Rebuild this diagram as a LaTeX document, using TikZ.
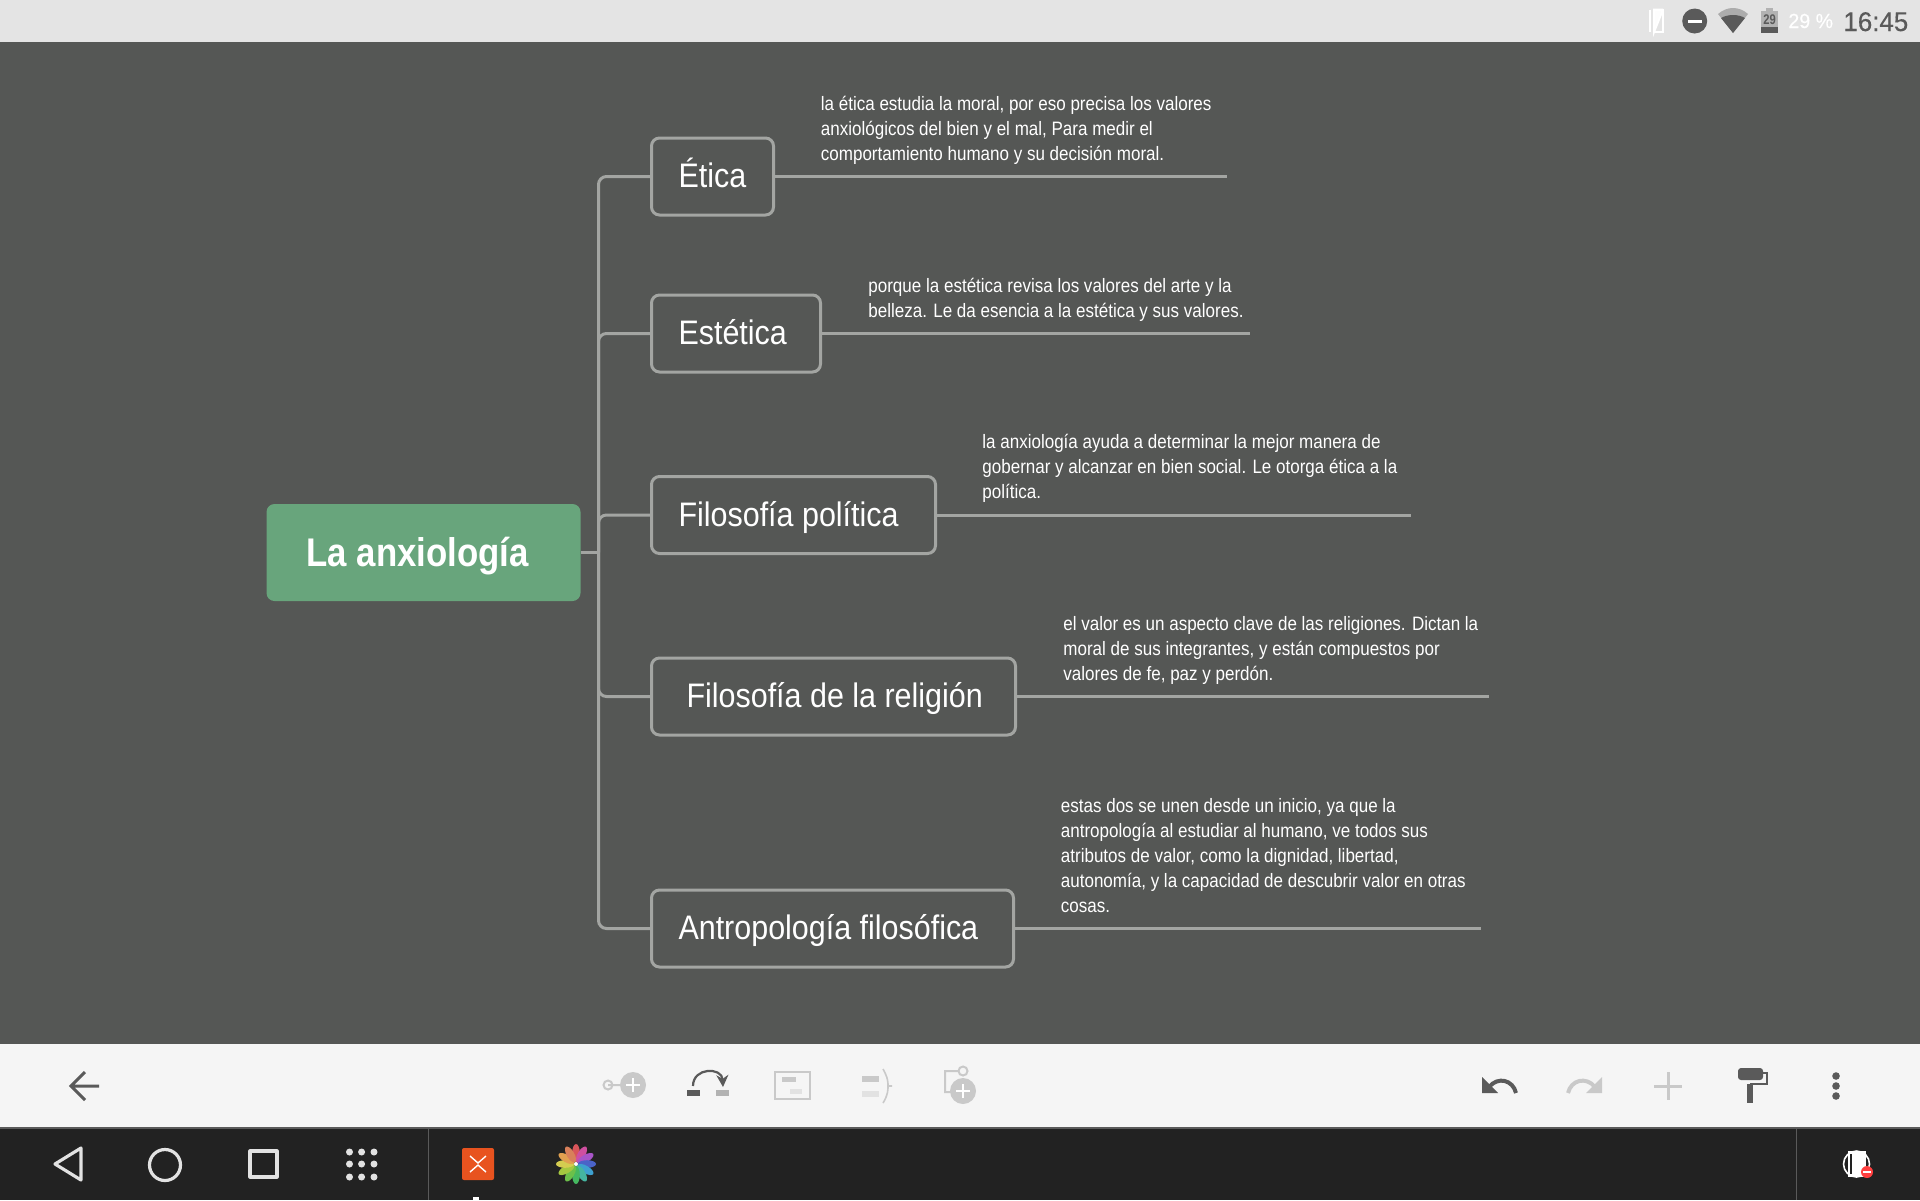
\documentclass[tikz,border=0pt]{standalone}
\usepackage{fontspec}
\usetikzlibrary{arrows.meta}
\setmainfont{Liberation Sans}
\newfontfamily\descf[FakeStretch=0.877]{Liberation Sans}
\newfontfamily\topf[FakeStretch=0.896]{Liberation Sans}
\newfontfamily\rootf[FakeStretch=0.87]{Liberation Sans}
\newfontfamily\smallf[FakeStretch=0.80]{Liberation Sans}
\newfontfamily\plainf{Liberation Sans}
\newfontfamily\medf[FakeBold=0.4,FakeStretch=0.96]{Liberation Sans}
\definecolor{canvas}{HTML}{555755}
\definecolor{rootc}{HTML}{68A57C}
\definecolor{linec}{HTML}{A3A5A2}
\definecolor{topbar}{HTML}{E4E4E4}
\definecolor{toolbar}{HTML}{F5F5F5}
\definecolor{navbar}{HTML}{222222}
\definecolor{icond}{HTML}{5A5A5A}
\definecolor{iconl}{HTML}{C9C9C9}
\definecolor{iconll}{HTML}{E2E2E2}
\definecolor{appc}{HTML}{E8531F}
\tikzset{
  conn/.style={draw=linec,line width=1.5pt,rounded corners=4pt},
  topicbox/.style={draw=linec,line width=1.5pt,rounded corners=4pt,fill=canvas,inner sep=0pt,outer sep=0pt,minimum height=38.5pt,text=white,font=\topf\fontsize{17}{18}\selectfont},
  rootbox/.style={fill=rootc,rounded corners=4pt,inner sep=0pt,outer sep=0pt,minimum height=48.5pt,text=white,font=\rootf\bfseries\fontsize{20}{22}\selectfont},
  desc/.style={anchor=north west,inner sep=0pt,align=left,text=white,font=\descf\fontsize{9.7}{12.5}\selectfont},
  nav/.style={draw=iconll,line width=1.6pt},
}
\newcommand{\boxtxt}[3]{\makebox[#1pt][l]{\hspace*{#2pt}\vphantom{Áp}#3}}
\begin{document}
\begin{tikzpicture}[x=0.5pt,y=-0.5pt]
\useasboundingbox (0,0) rectangle (1920,1200);
% bands
\fill[canvas] (0,0) rectangle (1920,1200);
\fill[topbar] (0,0) rectangle (1920,42);
\fill[toolbar] (0,1044) rectangle (1920,1128);
\fill[navbar] (0,1128) rectangle (1920,1200);
\fill[icond] (0,1127) rectangle (1920,1129);
% root and topics
\node[rootbox,minimum width=157pt] (root) at (423.5,552.5) {\boxtxt{157}{20}{La anxiología}};
\node[topicbox,minimum width=61pt] (etica) at (712.5,176.5) {\boxtxt{61}{13.5}{Ética}};
\node[topicbox,minimum width=84.5pt] (estetica) at (736,333.5) {\boxtxt{84.5}{13.5}{Estética}};
\node[topicbox,minimum width=142pt] (politica) at (793.5,515) {\boxtxt{142}{13.5}{Filosofía política}};
\node[topicbox,minimum width=182pt] (religion) at (833.5,696.5) {\boxtxt{182}{17.5}{Filosofía de la religión}};
\node[topicbox,minimum width=181pt] (antro) at (832.5,928.5) {\boxtxt{181}{13.5}{Antropología filosófica}};
% connectors
\coordinate (tr) at ([xshift=9pt]root.east);
\draw[conn] (root.east) -- (tr);
\draw[conn] (tr) |- (etica.west);
\draw[conn] (tr) |- (estetica.west);
\draw[conn] (tr) |- (politica.west);
\draw[conn] (tr) |- (religion.west);
\draw[conn] (tr) |- (antro.west);
\coordinate (e1) at (1227,176.5);
\coordinate (e2) at (1250,333.5);
\coordinate (e3) at (1411,515);
\coordinate (e4) at (1489,696.5);
\coordinate (e5) at (1481,928.5);
\draw[conn] (etica.east) -- (e1);
\draw[conn] (estetica.east) -- (e2);
\draw[conn] (politica.east) -- (e3);
\draw[conn] (religion.east) -- (e4);
\draw[conn] (antro.east) -- (e5);
% descriptions
\node[desc] (d1) at (820.5,92.5) {\strut la ética estudia la moral, por eso precisa los valores\\anxiológicos del bien y el mal, Para medir el\\comportamiento humano y su decisión moral.};
\node[desc] (d2) at (868,275) {\strut porque la estética revisa los valores del arte y la\\belleza. Le da esencia a la estética y sus valores.};
\node[desc] (d3) at (982,430.5) {\strut la anxiología ayuda a determinar la mejor manera de\\gobernar y alcanzar en bien social. Le otorga ética a la\\política.};
\node[desc] (d4) at (1063,613) {\strut el valor es un aspecto clave de las religiones. Dictan la\\moral de sus integrantes, y están compuestos por\\valores de fe, paz y perdón.};
\node[desc] (d5) at (1060.5,794.5) {\strut estas dos se unen desde un inicio, ya que la\\antropología al estudiar al humano, ve todos sus\\atributos de valor, como la dignidad, libertad,\\autonomía, y la capacidad de descubrir valor en otras\\cosas.};
% status bar
\draw[white,line width=1.2pt] (1650,9.5) -- (1650,32);
\draw[white,line width=1pt,fill=white,fill opacity=.95] (1654,9.5) -- (1662,9.5) -- (1662,12) -- (1654,32) -- cycle;
\draw[white,line width=1pt] (1654,9.5) rectangle (1662.5,32);
\fill[icond] (1694.7,21) circle (12.5);
\fill[white] (1688,19.5) rectangle (1701.5,22.5);
\fill[gray!65] (1733,33) -- (1718,14) .. controls (1727,6) and (1739,6) .. (1748,14) -- cycle;
\fill[icond] (1733,33) -- (1721,18) .. controls (1728,14) and (1738,14) .. (1745,18) -- cycle;
\fill[gray!60] (1761,11) rectangle (1778,33);
\fill[gray!60] (1766,8) rectangle (1773,11);
\fill[icond] (1761,27) rectangle (1778,33);
\node[inner sep=0pt,text=icond,font=\smallf\bfseries\fontsize{7}{8}\selectfont] (bat) at (1769.5,20) {29};
\node[anchor=base west,inner sep=0pt,text=white,font=\medf\fontsize{10.2}{12}\selectfont] (pct) at (1788,28) {29 \%};
\node[anchor=base west,inner sep=0pt,text=icond,font=\medf\fontsize{13.5}{15}\selectfont] (clock) at (1843,31) {16:45};
% toolbar
\draw[icond,line width=1.5pt] (99,1086) -- (71,1086) (85,1072) -- (71,1086) -- (85,1100);
% add subtopic
\draw[iconl,line width=1pt] (608,1085) circle (4.5) -- (627,1085);
\fill[iconl] (633,1085) circle (13);
\draw[white,line width=1.1pt] (626,1085) -- (640,1085) (633,1078) -- (633,1092);
% relation
\fill[icond] (687,1090) rectangle (700,1096);
\fill[gray!60] (716,1090) rectangle (729,1096);
\draw[icond,line width=1.1pt,-{Stealth[length=6pt,width=6pt]}] (693,1086) .. controls (693,1067) and (722,1067) .. (723,1087);
% boundary
\draw[iconl,line width=1pt] (775,1072) rectangle (810,1099);
\fill[iconl] (782,1077) rectangle (796,1082);
\fill[iconll] (790,1089) rectangle (802,1094);
% summary
\fill[iconl] (862,1076) rectangle (879,1082);
\fill[iconll] (862,1091) rectangle (879,1097);
\draw[iconl,line width=.8pt] (883,1069) .. controls (888,1078) and (888,1082) .. (888,1086) -- (892,1086) -- (888,1086) .. controls (888,1090) and (888,1095) .. (883,1103);
% floating
\draw[iconl,line width=1pt] (963,1071) circle (4.5) (958,1071) -- (945,1071) -- (945,1092) -- (955,1092);
\fill[iconl] (963,1091) circle (13);
\draw[white,line width=1.1pt] (956,1091) -- (970,1091) (963,1084) -- (963,1098);
% undo, redo, plus, roller, dots
\fill[icond] (1482,1077) -- (1482,1093) -- (1498,1093) -- cycle;
\draw[icond,line width=2pt] (1489,1087) .. controls (1498,1076) and (1513,1080) .. (1516,1093);
\fill[iconl] (1602,1077) -- (1602,1093) -- (1586,1093) -- cycle;
\draw[iconl,line width=2pt] (1595,1087) .. controls (1586,1076) and (1571,1080) .. (1568,1093);
\draw[iconl,line width=1.5pt] (1654,1086) -- (1682,1086) (1668,1072) -- (1668,1100);
\fill[icond,rounded corners=1.5pt] (1738,1068) rectangle (1763,1080);
\draw[icond,line width=1.2pt] (1763,1073) -- (1767,1073) -- (1767,1084) -- (1750,1084);
\draw[icond,line width=2.8pt] (1750,1084) -- (1750,1103);
\foreach \yy in {1076,1086,1096} \fill[icond] (1836,\yy) circle (3.8);
% nav bar
\draw[nav,line join=round] (81,1148) -- (55,1164) -- (81,1180) -- cycle;
\draw[nav] (165,1165) circle (15.5);
\draw[nav,line join=round] (250,1151) rectangle (277,1177);
\foreach \xx in {349.5,361.6,374} \foreach \yy in {1152,1164,1177} \fill[iconll] (\xx,\yy) circle (3.5);
\draw[icond,line width=.5pt] (428.6,1128) -- (428.6,1200);
\draw[icond,line width=.5pt] (1796,1128) -- (1796,1200);
\fill[appc,rounded corners=1pt] (462,1148) rectangle (494,1180);
\draw[white,line width=.7pt] (470,1156) -- (478,1163) -- (486,1156) (470,1172) -- (478,1165) -- (486,1172);
\fill[white] (473,1197) rectangle (479,1200);
\foreach \a/\c in {90/D8555A,60/CF4FA0,30/A855C8,0/4A63C8,-30/3EA0D0,-60/45B5A0,-90/45B860,-120/6CC04A,-150/A5C840,180/D4CC50,150/E0A050,120/D8805A}{
  \definecolor{petal}{HTML}{\c}
  \fill[petal,shift={(576,1164)},rotate=\a] (11,0) ellipse (9 and 3.8);
}
\fill[white] (576,1164) circle (2);
\fill[white] (1848,1151) rectangle (1866,1177);
\draw[white,line width=.8pt] (1856.5,1164) ellipse (13 and 13);
\draw[navbar,line width=.6pt] (1851,1154) -- (1851,1174);
\fill[red!75!white] (1867,1172) circle (6);
\fill[white] (1863,1171) rectangle (1871,1173);
\end{tikzpicture}
\end{document}
